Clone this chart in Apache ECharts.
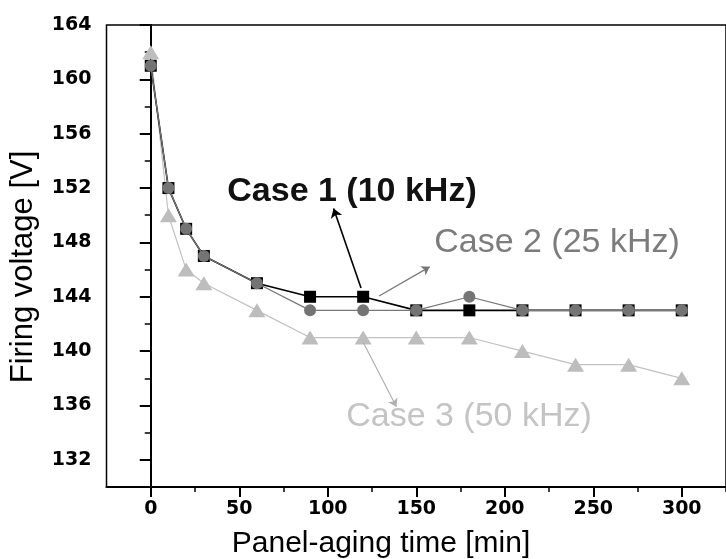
<!DOCTYPE html>
<html>
<head>
<meta charset="utf-8">
<script src="https://cdn.jsdelivr.net/npm/echarts@6/dist/echarts.min.js"></script>
<style>
  html, body { margin: 0; padding: 0; background: #fff; }
  #chart { width: 726px; height: 559px; }
</style>
</head>
<body>
<div id="chart"></div>
<script>
// Panel-aging time [min]
const agingTime = [0, 10, 20, 30, 60, 90, 120, 150, 180, 210, 240, 270, 300];
// Firing voltage [V] per driving frequency
const case1 = [161, 152, 149, 147, 145, 144, 144, 143, 143, 143, 143, 143, 143];
const case2 = [161, 152, 149, 147, 145, 143, 143, 143, 144, 143, 143, 143, 143];
const case3 = [162, 150, 146, 145, 143, 141, 141, 141, 141, 140, 139, 139, 138];

const seriesNames = ['Case 1 (10 kHz)', 'Case 2 (25 kHz)', 'Case 3 (50 kHz)'];

// Tick marks
const xTicks = [0, 50, 100, 150, 200, 250, 300];
const xMinorTicks = [25, 75, 125, 175, 225, 275, 325];
const yTicks = [132, 136, 140, 144, 148, 152, 156, 160, 164];
const yMinorTicks = [134, 138, 142, 146, 150, 154, 158, 162];

const X_MIN = -25, X_MAX = 325, Y_MIN = 130, Y_MAX = 164;

const pairs = (ys) => agingTime.map((t, i) => [t, ys[i]]);

const tickFont = { fontFamily: 'DejaVu Sans', fontWeight: 'bold', fontSize: 19, color: '#000' };
const gridBox = { left: 106.5, right: -12, top: 25, bottom: 72 };

const chart = echarts.init(document.getElementById('chart'), null, { renderer: 'canvas' });

chart.setOption({
  animation: false,
  backgroundColor: '#fff',
  grid: [
    Object.assign({ show: true, borderColor: '#000', borderWidth: 1.5, backgroundColor: 'transparent' }, gridBox),
    Object.assign({ show: false }, gridBox)
  ],
  xAxis: [
    {
      type: 'value', gridIndex: 0, min: X_MIN, max: X_MAX,
      axisLine: { show: true, lineStyle: { color: '#000', width: 2 } },
      axisTick: { show: true, customValues: xTicks, length: 10, lineStyle: { color: '#000', width: 2 } },
      axisLabel: Object.assign({ customValues: xTicks, margin: 13 }, tickFont),
      splitLine: { show: false }
    },
    {
      type: 'value', gridIndex: 1, min: X_MIN, max: X_MAX,
      axisLine: { show: false },
      axisTick: { show: true, customValues: xMinorTicks, length: 5, lineStyle: { color: '#000', width: 1.5 } },
      axisLabel: { show: false },
      splitLine: { show: false }
    }
  ],
  yAxis: [
    {
      type: 'value', gridIndex: 0, min: Y_MIN, max: Y_MAX,
      axisLine: { show: true, lineStyle: { color: '#000', width: 2 } },
      axisTick: { show: true, customValues: yTicks, length: 11, lineStyle: { color: '#000', width: 2 } },
      axisLabel: Object.assign({ customValues: yTicks, margin: 15 }, tickFont),
      splitLine: { show: false }
    },
    {
      type: 'value', gridIndex: 1, min: Y_MIN, max: Y_MAX,
      axisLine: { show: false },
      axisTick: { show: true, customValues: yMinorTicks, length: 6, lineStyle: { color: '#000', width: 1.5 } },
      axisLabel: { show: false },
      splitLine: { show: false }
    }
  ],
  series: [
    {
      name: seriesNames[2], type: 'line', xAxisIndex: 0, yAxisIndex: 0,
      data: pairs(case3), z: 2,
      symbol: 'triangle', symbolSize: [17, 14],
      lineStyle: { color: '#c2c2c2', width: 1.2 },
      itemStyle: { color: '#bdbdbd' },
      markLine: {
        silent: true, symbol: ['none', 'arrow'], symbolSize: 8,
        label: { show: false },
        lineStyle: { color: '#b0b0b0', width: 1.2, type: 'solid' },
        data: [[{ coord: [120, 140.65] }, { coord: [138.8, 135.9] }]]
      }
    },
    {
      name: seriesNames[0], type: 'line', xAxisIndex: 0, yAxisIndex: 0,
      data: pairs(case1), z: 3,
      symbol: 'rect', symbolSize: 12,
      lineStyle: { color: '#000', width: 1.6 },
      itemStyle: { color: '#000' },
      markLine: {
        silent: true, symbol: ['none', 'arrow'], symbolSize: 9,
        label: { show: false },
        lineStyle: { color: '#000', width: 1.6, type: 'solid' },
        data: [[{ coord: [118.8, 144.65] }, { coord: [103.3, 150.5] }]]
      }
    },
    {
      name: seriesNames[1], type: 'line', xAxisIndex: 0, yAxisIndex: 0,
      data: pairs(case2), z: 4,
      symbol: 'circle', symbolSize: 12,
      lineStyle: { color: '#777', width: 1.2 },
      itemStyle: { color: '#747474' },
      markLine: {
        silent: true, symbol: ['none', 'arrow'], symbolSize: 8,
        label: { show: false },
        lineStyle: { color: '#777', width: 1.2, type: 'solid' },
        data: [[{ coord: [129, 144.05] }, { coord: [157.6, 146.2] }]]
      }
    }
  ],
  graphic: [
    {
      type: 'text', x: 352, y: 192,
      style: { text: seriesNames[0], font: 'bold 34px "Liberation Sans", Arial, sans-serif', fill: '#111', align: 'center', verticalAlign: 'middle' }
    },
    {
      type: 'text', x: 557, y: 243,
      style: { text: seriesNames[1], font: '34px "Liberation Sans", Arial, sans-serif', fill: '#7c7c7c', align: 'center', verticalAlign: 'middle' }
    },
    {
      type: 'text', x: 469, y: 417,
      style: { text: seriesNames[2], font: '34px "Liberation Sans", Arial, sans-serif', fill: '#c4c4c4', align: 'center', verticalAlign: 'middle' }
    },
    {
      type: 'text', x: 381, y: 544,
      style: { text: 'Panel-aging time [min]', font: '30px "Liberation Sans", Arial, sans-serif', fill: '#000', align: 'center', verticalAlign: 'middle' }
    },
    {
      type: 'text', x: 23, y: 267, rotation: Math.PI / 2,
      style: { text: 'Firing voltage [V]', font: '31px "Liberation Sans", Arial, sans-serif', fill: '#000', align: 'center', verticalAlign: 'middle' }
    }
  ]
});
</script>
</body>
</html>
